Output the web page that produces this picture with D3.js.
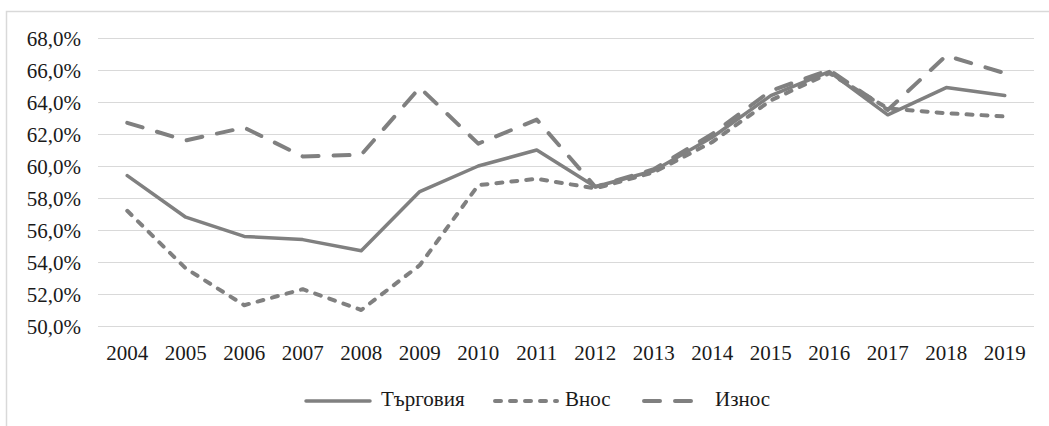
<!DOCTYPE html>
<html>
<head>
<meta charset="utf-8">
<script src="https://cdn.jsdelivr.net/npm/d3@7"></script>
<style>
  body { margin: 0; background: #fff; }
</style>
</head>
<body>
<svg id="chart"></svg>
<script>
// data
const years = ["2004","2005","2006","2007","2008","2009","2010","2011","2012","2013","2014","2015","2016","2017","2018","2019"];
const trade  = [59.4, 56.8, 55.6, 55.4, 54.7, 58.4, 60.0, 61.0, 58.7, 59.7, 61.8, 64.4, 65.9, 63.2, 64.9, 64.4];
const imports = [57.2, 53.6, 51.3, 52.3, 51.0, 53.8, 58.8, 59.2, 58.6, 59.6, 61.5, 64.1, 65.8, 63.6, 63.3, 63.1];
const exports = [62.7, 61.6, 62.4, 60.6, 60.7, 64.9, 61.4, 62.9, 58.7, 59.8, 62.0, 64.7, 66.0, 63.5, 66.9, 65.8];
const yTicks = [50, 52, 54, 56, 58, 60, 62, 64, 66, 68];
const seriesNames = ["Търговия", "Внос", "Износ"];

const width = 1049, height = 426;
const fontFamily = "'Liberation Serif'";
const fontSize = "21px";

const svg = d3.select("#chart")
    .attr("width", width)
    .attr("height", height);

// chart frame
svg.append("rect")
    .attr("x", 6.5).attr("y", 11.5)
    .attr("width", width + 10).attr("height", height + 10)
    .attr("fill", "none")
    .attr("stroke", "#d9d9d9")
    .attr("stroke-width", 1.5);

const x = d3.scaleBand()
    .domain(years)
    .range([98, 1034]);

const y = d3.scaleLinear()
    .domain([50, 68])
    .range([326, 38]);

// gridlines
svg.append("g")
    .selectAll("line")
    .data(yTicks)
    .join("line")
    .attr("x1", 98).attr("x2", 1034)
    .attr("y1", d => y(d) + 0.5).attr("y2", d => y(d) + 0.5)
    .attr("stroke", "#d9d9d9")
    .attr("stroke-width", 1);

// y labels
const fmt = d => d3.format(".1f")(d).replace(".", ",") + "%";
svg.append("g")
    .selectAll("text")
    .data(yTicks)
    .join("text")
    .attr("x", 81)
    .attr("y", d => y(d) + 7.5)
    .attr("text-anchor", "end")
    .style("font-family", fontFamily)
    .style("font-size", fontSize)
    .attr("fill", "#1a1a1a")
    .text(fmt);

// x labels
svg.append("g")
    .selectAll("text")
    .data(years)
    .join("text")
    .attr("x", d => x(d) + x.bandwidth() / 2)
    .attr("y", 360)
    .attr("text-anchor", "middle")
    .style("font-family", fontFamily)
    .style("font-size", fontSize)
    .attr("fill", "#1a1a1a")
    .text(d => d);

const line = d3.line()
    .x((d, i) => x(years[i]) + x.bandwidth() / 2)
    .y(d => y(d));

const styles = [
    {data: trade, dash: null, width: 3.5},
    {data: imports, dash: "6,9", width: 4},
    {data: exports, dash: "16,15", width: 4}
];

styles.forEach(s => {
    svg.append("path")
        .datum(s.data)
        .attr("d", line)
        .attr("fill", "none")
        .attr("stroke", "#808080")
        .attr("stroke-width", s.width)
        .attr("stroke-linejoin", "round")
        .attr("stroke-linecap", "round")
        .attr("stroke-dasharray", s.dash);
});

// legend
const legendItems = [
    {x1: 306, x2: 370, tx: 381},
    {x1: 495, x2: 557, tx: 565},
    {x1: 644, x2: 700, tx: 715}
];
const legend = svg.append("g");
legendItems.forEach((l, i) => {
    legend.append("line")
        .attr("x1", l.x1).attr("x2", l.x2)
        .attr("y1", 401).attr("y2", 401)
        .attr("stroke", "#808080")
        .attr("stroke-width", styles[i].width)
        .attr("stroke-linecap", "round")
        .attr("stroke-dasharray", styles[i].dash);
    legend.append("text")
        .attr("x", l.tx)
        .attr("y", 406)
        .style("font-family", fontFamily)
        .style("font-size", fontSize)
        .attr("fill", "#1a1a1a")
        .text(seriesNames[i]);
});
</script>
</body>
</html>
